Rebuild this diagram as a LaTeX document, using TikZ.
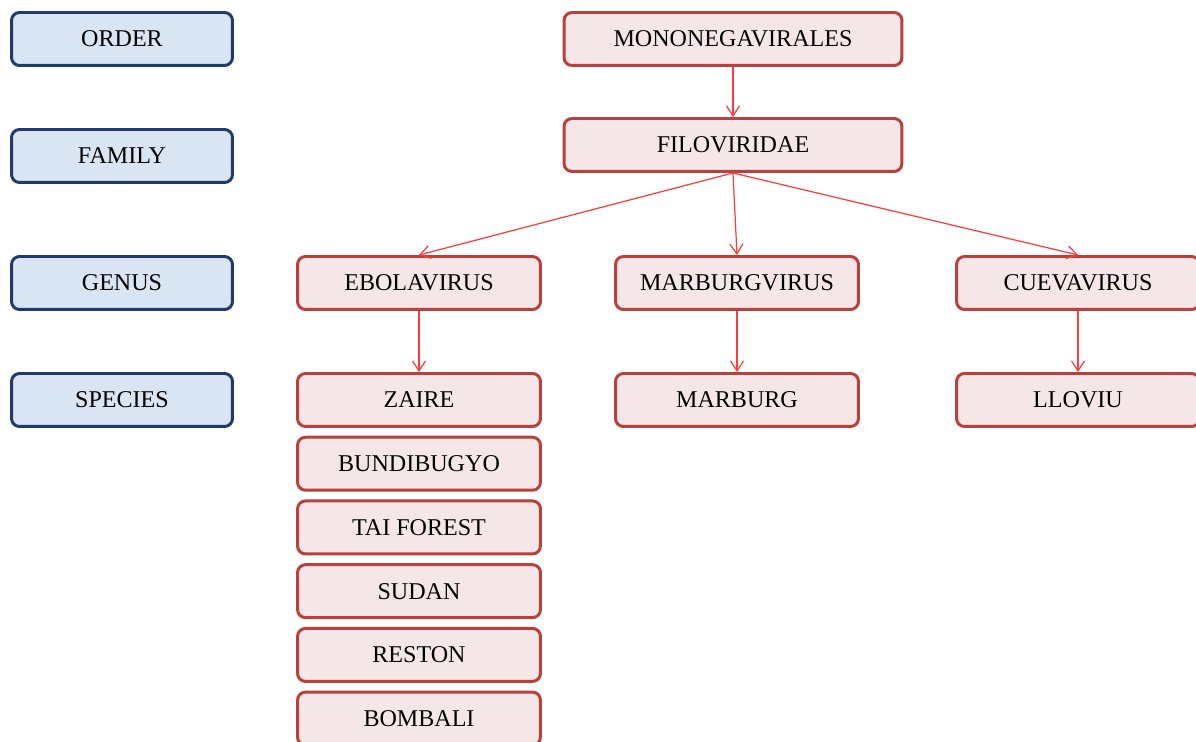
\documentclass[tikz,border=0pt]{standalone}
\usepackage{fontspec}
\setmainfont{Liberation Serif}
\usepackage{xcolor}
\usetikzlibrary{arrows.meta, positioning}
\definecolor{rankfill}{HTML}{DAE5F4}
\definecolor{rankdraw}{HTML}{1F3A6B}
\definecolor{taxfill}{HTML}{F5E7E7}
\definecolor{taxdraw}{HTML}{B8403D}
\definecolor{linkred}{HTML}{FF3B3B}

\begin{document}
\begin{tikzpicture}[
  x=0.02cm, y=-0.02cm,
  node distance=0.155cm,
  rank/.style={rectangle, draw=rankdraw, fill=rankfill, rounded corners=0.16cm,
               minimum width=4.42cm, minimum height=1.06cm, line width=1.7pt,
               align=center, font=\fontsize{13.7}{16}\selectfont},
  taxon/.style={rectangle, draw=taxdraw, fill=taxfill, rounded corners=0.16cm,
                minimum width=4.86cm, minimum height=1.06cm, line width=1.7pt,
                align=center, font=\fontsize{13.7}{16}\selectfont},
  wide/.style={taxon, minimum width=6.76cm},
  arrow/.style={-{Straight Barb[length=2mm, width=2.6mm]}, draw=linkred, line width=0.7pt}]

  \useasboundingbox (0,0) rectangle (1196,742);

  % taxonomic ranks
  \node[rank] (ORDER)   at (122,39)  {ORDER};
  \node[rank] (FAMILY)  at (122,156) {FAMILY};
  \node[rank] (GENUS)   at (122,283) {GENUS};
  \node[rank] (SPECIES) at (122,400) {SPECIES};

  % order and family
  \node[wide] (MONO) at (733,39)  {MONONEGAVIRALES};
  \node[wide] (FILO) at (733,145) {FILOVIRIDAE};

  % genera
  \node[taxon] (EBOLA)   at (419,283)  {EBOLAVIRUS};
  \node[taxon] (MARBV)   at (737,283)  {MARBURGVIRUS};
  \node[taxon] (CUEVA)   at (1078,283) {CUEVAVIRUS};

  % species
  \node[taxon] (ZAIRE)   at (419,400)  {ZAIRE};
  \node[taxon, below=of ZAIRE] (BUNDI) {BUNDIBUGYO};
  \node[taxon, below=of BUNDI] (TAI)   {TAI FOREST};
  \node[taxon, below=of TAI]   (SUDAN) {SUDAN};
  \node[taxon, below=of SUDAN] (RESTON) {RESTON};
  \node[taxon, below=of RESTON] (BOMBALI) {BOMBALI};
  \node[taxon] (MARBURG) at (737,400)  {MARBURG};
  \node[taxon] (LLOVIU)  at (1078,400) {LLOVIU};

  \draw[arrow] (MONO.south) -- (FILO.north);
  \draw[arrow] (FILO.south) -- (EBOLA.north);
  \draw[arrow] (FILO.south) -- (MARBV.north);
  \draw[arrow] (FILO.south) -- (CUEVA.north);
  \draw[arrow] (EBOLA.south) -- (ZAIRE.north);
  \draw[arrow] (MARBV.south) -- (MARBURG.north);
  \draw[arrow] (CUEVA.south) -- (LLOVIU.north);
\end{tikzpicture}
\end{document}
